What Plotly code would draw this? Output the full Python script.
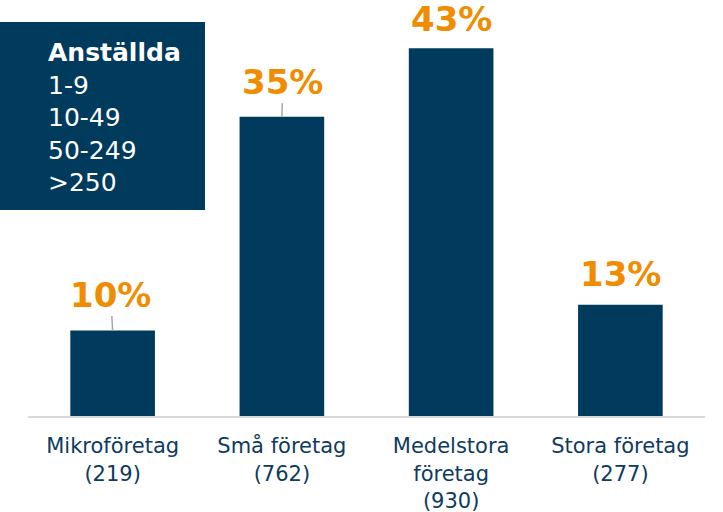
import plotly.graph_objects as go

categories = ["Mikroföretag<br>(219)", "Små företag<br>(762)", "Medelstora<br>företag<br>(930)", "Stora företag<br>(277)"]
values = [10, 35, 43, 13]
value_labels = ["10%", "35%", "43%", "13%"]
legend_title = "Anställda"
legend_items = ["1-9", "10-49", "50-249", ">250"]

NAVY = "#003A5C"
ORANGE = "#F08C00"
TEXT_NAVY = "#0E3B5E"

# layout geometry (pixels)
W, H = 723, 512
ML, MR, MT, MB = 28, 18, 10, 96
plot_w = W - ML - MR
plot_h = H - MT - MB

def px_x(p):
    return (p - ML) / plot_w

def px_y(p):
    return (H - MB - p) / plot_h

fig = go.Figure()
fig.add_trace(go.Bar(x=categories, y=values, marker=dict(color=NAVY, line=dict(width=0)),
                     hoverinfo="skip"))

# value labels with short leader lines
offsets = [(-2, -36, True), (1, -35, True), (0, -29, False), (0, -31, False)]
for cat, v, lab, (ax, ay, line) in zip(categories, values, value_labels, offsets):
    fig.add_annotation(x=cat, y=v, text=lab, showarrow=True, ax=ax, ay=ay,
                       arrowhead=0, arrowwidth=1.5,
                       arrowcolor="#A6A6A6" if line else "rgba(0,0,0,0)",
                       font=dict(family="DejaVu Sans", size=34, color=ORANGE, weight="bold"))

# legend box
fig.add_shape(type="rect", xref="paper", yref="paper",
              x0=px_x(0), x1=px_x(205), y0=px_y(210), y1=px_y(22),
              fillcolor=NAVY, line=dict(width=0), layer="above")
fig.add_annotation(xref="paper", yref="paper", x=px_x(46), y=px_y(36),
                   xanchor="left", yanchor="top", align="left", showarrow=False,
                   text="<b>" + legend_title + "</b><br>" + "<br>".join(legend_items),
                   font=dict(family="DejaVu Sans", size=25, color="white"))

fig.update_layout(
    width=W, height=H,
    margin=dict(l=ML, r=MR, t=MT, b=MB, autoexpand=False),
    paper_bgcolor="white", plot_bgcolor="white",
    bargap=0.5, showlegend=False,
    xaxis=dict(showline=True, linecolor="#D9D9D9", linewidth=2, ticks="",
               tickfont=dict(family="DejaVu Sans", size=21, color=TEXT_NAVY),
               ticklabelstandoff=10, automargin=False,
               showgrid=False, fixedrange=True),
    yaxis=dict(range=[0, plot_h / 8.55], visible=False, showgrid=False, fixedrange=True),
)

fig.write_html("out.html", config={"displayModeBar": False},
               post_script="document.body.style.margin='0';document.body.style.overflow='hidden';")
